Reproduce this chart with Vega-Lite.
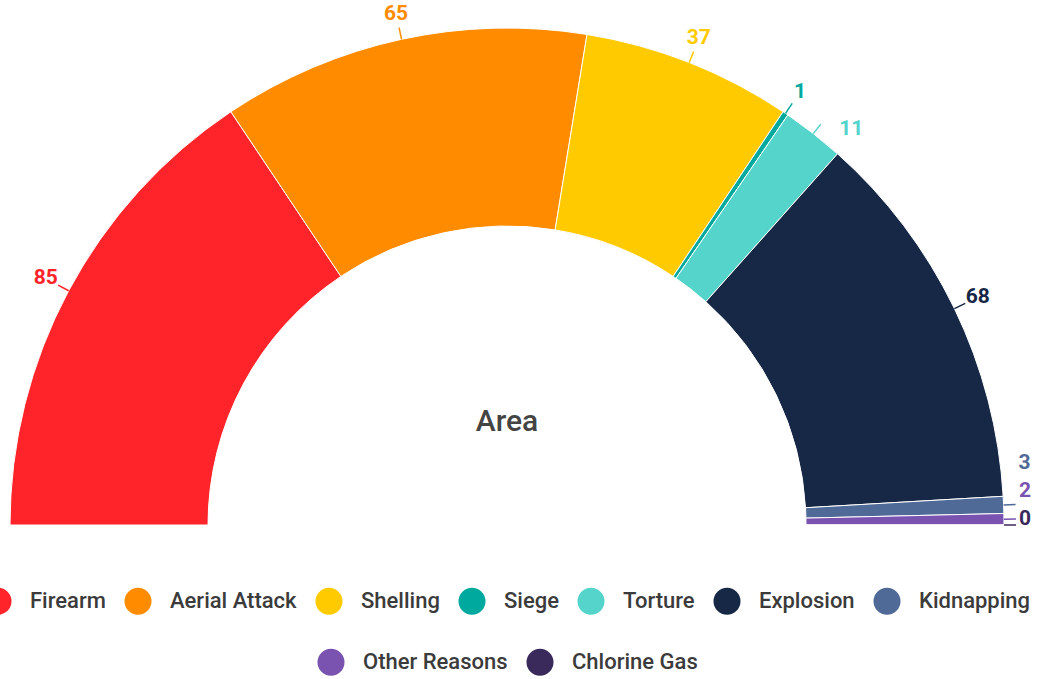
{
  "$schema": "https://vega.github.io/schema/vega-lite/v6.json",
  "width": 1014,
  "height": 495,
  "autosize": "none",
  "padding": {"left": 0, "top": 30, "right": 23, "bottom": 154},
  "background": "#ffffff",
  "config": {
    "view": {"stroke": null},
    "font": "Roboto",
    "legend": {
      "layout": {"bottom": {"anchor": "middle", "direction": "vertical", "center": true, "margin": 33}},
      "orient": "bottom", "direction": "horizontal", "title": null,
      "symbolType": "circle", "symbolSize": 730, "symbolStrokeWidth": 0, "symbolOpacity": 1,
      "labelFont": "Roboto", "labelFontSize": 22, "labelFontWeight": 500, "labelColor": "#3b3b3b",
      "labelOffset": 18, "columnPadding": 18, "offset": 62, "padding": 0, "labelLimit": 500
    }
  },
  "data": {"values": [
    {"category": "Firearm", "value": 85},
    {"category": "Aerial Attack", "value": 65},
    {"category": "Shelling", "value": 37},
    {"category": "Siege", "value": 1},
    {"category": "Torture", "value": 11},
    {"category": "Explosion", "value": 68},
    {"category": "Kidnapping", "value": 3},
    {"category": "Other Reasons", "value": 2},
    {"category": "Chlorine Gas", "value": 0}
  ]},
  "transform": [{"window": [{"op": "row_number", "as": "idx"}]}],
  "layer": [
    {
      "mark": {"type": "arc", "radius": 497, "radius2": 299, "stroke": "#ffffff", "strokeWidth": 1, "y": "height"},
      "encoding": {
        "theta": {"field": "value", "type": "quantitative", "stack": true, "scale": {"range": [-1.5707963, 1.5707963], "nice": false, "zero": true}},
        "order": {"field": "idx", "type": "quantitative"},
        "color": {
          "field": "category", "type": "nominal",
          "scale": {
            "domain": ["Firearm", "Aerial Attack", "Shelling", "Siege", "Torture", "Explosion", "Kidnapping", "Other Reasons", "Chlorine Gas"],
            "range": ["#ff2429", "#ff8c00", "#ffcb00", "#00a99d", "#55d4cb", "#172846", "#4f6a97", "#7a52b0", "#3a2a5b"]
          },
          "legend": {
            "values": ["Firearm", "Aerial Attack", "Shelling", "Siege", "Torture", "Explosion", "Kidnapping"]
          }
        }
      }
    },
    {
      "transform": [{"filter": "datum.category === 'Other Reasons' || datum.category === 'Chlorine Gas'"}],
      "mark": {"type": "text"},
      "encoding": {
        "text": {"value": ""},
        "fill": {
          "field": "category", "type": "nominal",
          "scale": {"domain": ["Other Reasons", "Chlorine Gas"], "range": ["#7a52b0", "#3a2a5b"]},
          "legend": {"symbolType": "circle"}
        }
      }
    },
    {
      "mark": {"type": "arc", "radius": 497, "radius2": 509, "padAngle": 1.4, "filled": false, "strokeWidth": 1.5, "y": "height"},
      "encoding": {
        "theta": {"field": "value", "type": "quantitative", "stack": true},
        "order": {"field": "idx", "type": "quantitative"},
        "color": {"field": "category", "type": "nominal", "legend": null}
      }
    },
    {
      "mark": {"type": "text", "radius": 523, "y": "height", "fontSize": 21, "fontWeight": "bold", "font": "Roboto"},
      "encoding": {
        "theta": {"field": "value", "type": "quantitative", "stack": true},
        "order": {"field": "idx", "type": "quantitative"},
        "color": {"field": "category", "type": "nominal", "legend": null},
        "text": {"condition": {"test": "indexof(['Torture','Kidnapping','Other Reasons','Chlorine Gas'], datum.category) < 0", "field": "value", "type": "quantitative"}, "value": ""}
      }
    },
    {
      "mark": {"type": "text", "radius": 523, "y": "height", "dx": 22, "dy": 16, "fontSize": 21, "fontWeight": "bold", "font": "Roboto"},
      "encoding": {
        "theta": {"field": "value", "type": "quantitative", "stack": true},
        "order": {"field": "idx", "type": "quantitative"},
        "color": {"field": "category", "type": "nominal", "legend": null},
        "text": {"condition": {"test": "datum.category === 'Torture'", "field": "value", "type": "quantitative"}, "value": ""}
      }
    },
    {
      "mark": {"type": "text", "radius": 518, "y": "height", "dy": -41, "fontSize": 21, "fontWeight": "bold", "font": "Roboto"},
      "encoding": {
        "theta": {"field": "value", "type": "quantitative", "stack": true},
        "order": {"field": "idx", "type": "quantitative"},
        "color": {"field": "category", "type": "nominal", "legend": null},
        "text": {"condition": {"test": "datum.category === 'Kidnapping'", "field": "value", "type": "quantitative"}, "value": ""}
      }
    },
    {
      "mark": {"type": "text", "radius": 518, "y": "height", "dy": -28, "fontSize": 21, "fontWeight": "bold", "font": "Roboto"},
      "encoding": {
        "theta": {"field": "value", "type": "quantitative", "stack": true},
        "order": {"field": "idx", "type": "quantitative"},
        "color": {"field": "category", "type": "nominal", "legend": null},
        "text": {"condition": {"test": "datum.category === 'Other Reasons'", "field": "value", "type": "quantitative"}, "value": ""}
      }
    },
    {
      "mark": {"type": "text", "radius": 518, "y": "height", "dy": -6, "fontSize": 21, "fontWeight": "bold", "font": "Roboto"},
      "encoding": {
        "theta": {"field": "value", "type": "quantitative", "stack": true},
        "order": {"field": "idx", "type": "quantitative"},
        "color": {"field": "category", "type": "nominal", "legend": null},
        "text": {"condition": {"test": "datum.category === 'Chlorine Gas'", "field": "value", "type": "quantitative"}, "value": ""}
      }
    },
    {
      "data": {"values": [{"label": "Area"}]},
      "mark": {"type": "text", "y": "height", "dy": -103, "fontSize": 30, "fontWeight": 500, "color": "#444444", "font": "Roboto"},
      "encoding": {"text": {"field": "label", "type": "nominal"}}
    }
  ]
}
